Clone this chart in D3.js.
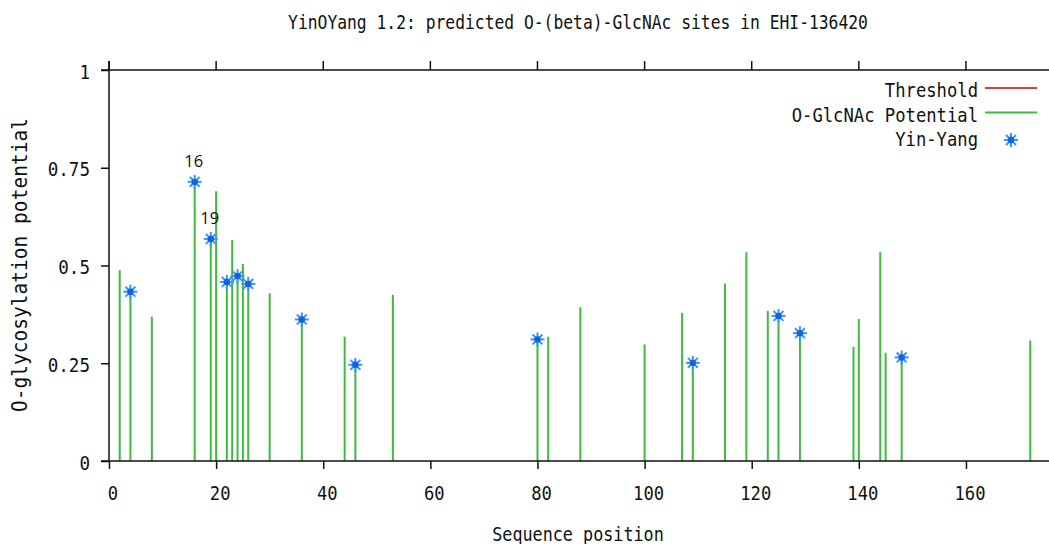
<!DOCTYPE html>
<html>
<head>
<meta charset="utf-8">
<script src="https://cdn.jsdelivr.net/npm/d3@7"></script>
<style>
  body { margin: 0; background: #fff; }
  svg { display: block; }
  .mono { font-family: "DejaVu Sans Mono", "Liberation Mono", monospace; fill: #111; }
  .axis text { font-family: "DejaVu Sans Mono", "Liberation Mono", monospace; font-size: 19.5px; fill: #111; }
  .axis line { stroke: #111; stroke-width: 1.5; }
</style>
</head>
<body>
<div id="chart"></div>
<script>
// sequence positions with O-GlcNAc potential
var positions = [2, 4, 8, 16, 19, 20, 22, 23, 24, 25, 26, 30, 36, 44, 46, 53, 80, 82, 88, 100,
                 107, 109, 115, 119, 123, 125, 129, 139, 140, 144, 145, 148, 172];
var potential = [0.488, 0.433, 0.369, 0.714, 0.568, 0.690, 0.458, 0.565, 0.473, 0.504, 0.453, 0.429,
                 0.362, 0.318, 0.246, 0.425, 0.311, 0.318, 0.393, 0.298, 0.379, 0.251, 0.454, 0.534,
                 0.384, 0.371, 0.327, 0.292, 0.363, 0.534, 0.277, 0.265, 0.308];
// Yin-Yang sites
var yinYangPos = [4, 16, 19, 22, 24, 26, 36, 46, 80, 109, 125, 129, 148];
var yinYangVal = [0.433, 0.714, 0.568, 0.458, 0.473, 0.453, 0.362, 0.246, 0.311, 0.251, 0.371, 0.327, 0.265];
// annotated sites
var labelPos = [16, 19];
var labelVal = [0.714, 0.568];

var xTicks = [0, 20, 40, 60, 80, 100, 120, 140, 160];
var yTicks = [0, 0.25, 0.5, 0.75, 1];
var yTickLabels = ['0', '0.25', '0.5', '0.75', '1'];

var legendNames = ['Threshold', 'O-GlcNAc Potential', 'Yin-Yang'];

var W = 1049, H = 544;
var colors = {threshold: '#e8383c', bar: '#3dbb3d', star: '#3a96f5', starDot: '#1462e0'};

var svg = d3.select('#chart').append('svg')
    .attr('width', W)
    .attr('height', H);

var x = d3.scaleLinear().domain([0, 180]).range([109, 109 + 5.356 * 180]);
var y = d3.scaleLinear().domain([0, 1]).range([461, 70]);

// narrow, tall gnuplot-like text
function monoText(px, py, size, sx, anchor, str, rotate) {
    return svg.append('text')
        .attr('class', 'mono')
        .attr('transform', 'translate(' + px + ',' + py + ')' + (rotate ? ' rotate(-90)' : '') + ' scale(' + sx + ',1)')
        .attr('text-anchor', anchor)
        .style('font-size', size + 'px')
        .text(str);
}

// title
monoText(578, 29, 19, 0.86, 'middle', 'YinOYang 1.2: predicted O-(beta)-GlcNAc sites in EHI-136420');

// frame: top border with outward ticks
svg.append('line')
    .attr('x1', 101).attr('x2', W).attr('y1', y(1)).attr('y2', y(1))
    .attr('stroke', '#111').attr('stroke-width', 1.5);
svg.append('g').selectAll('line')
    .data(xTicks)
    .enter().append('line')
    .attr('x1', function(d) { return x(d); })
    .attr('x2', function(d) { return x(d); })
    .attr('y1', y(1)).attr('y2', y(1) - 9)
    .attr('stroke', '#111').attr('stroke-width', 1.5);

// bars
svg.append('g').selectAll('line')
    .data(positions)
    .enter().append('line')
    .attr('x1', function(d) { return x(d); })
    .attr('x2', function(d) { return x(d); })
    .attr('y1', y(0))
    .attr('y2', function(d, i) { return y(potential[i]); })
    .attr('stroke', colors.bar)
    .attr('stroke-width', 2);

// axes
var xAxis = d3.axisBottom(x)
    .tickValues(xTicks)
    .tickSize(8)
    .tickPadding(17)
    .tickFormat(d3.format('d'));
var gx = svg.append('g')
    .attr('class', 'axis')
    .attr('transform', 'translate(0,' + y(0) + ')')
    .call(xAxis);
gx.select('.domain').remove();
gx.selectAll('text').attr('transform', 'translate(3.5,0) scale(0.88,1)');
svg.append('line')
    .attr('x1', 101).attr('x2', W).attr('y1', y(0)).attr('y2', y(0))
    .attr('stroke', '#111').attr('stroke-width', 1.5);

var yAxis = d3.axisLeft(y)
    .tickValues(yTicks)
    .tickSize(8)
    .tickPadding(10)
    .tickFormat(function(d, i) { return yTickLabels[i]; });
var gy = svg.append('g')
    .attr('class', 'axis')
    .attr('transform', 'translate(' + x(0) + ',0)')
    .call(yAxis);
gy.select('.domain').remove();
gy.selectAll('text')
    .attr('x', 0)
    .attr('dy', '0.42em')
    .attr('transform', 'translate(-19,0) scale(0.9,1)');
svg.append('line')
    .attr('x1', x(0)).attr('x2', x(0)).attr('y1', y(1) - 9).attr('y2', y(0))
    .attr('stroke', '#111').attr('stroke-width', 1.5);

// axis titles
monoText(578, 541, 19.5, 0.86, 'middle', 'Sequence position');
monoText(27, 265, 21, 0.93, 'middle', 'O-glycosylation potential', true);

// yin-yang star marker
function star(g, cx, cy) {
    var r = 7;
    [0, 45, 90, 135].forEach(function(a) {
        var rad = a * Math.PI / 180;
        g.append('line')
            .attr('x1', cx - r * Math.cos(rad)).attr('y1', cy - r * Math.sin(rad))
            .attr('x2', cx + r * Math.cos(rad)).attr('y2', cy + r * Math.sin(rad))
            .attr('stroke', colors.star).attr('stroke-width', 2);
    });
    g.append('circle')
        .attr('cx', cx).attr('cy', cy).attr('r', 3.2)
        .attr('fill', colors.starDot);
}

var stars = svg.append('g');
yinYangPos.forEach(function(p, i) {
    star(stars, x(p), y(yinYangVal[i]));
});

// site annotations
svg.append('g').selectAll('text')
    .data(labelPos)
    .enter().append('text')
    .attr('x', function(d) { return x(d) - 1; })
    .attr('y', function(d, i) { return y(labelVal[i]) - 15; })
    .attr('text-anchor', 'middle')
    .style('font-family', '"Open Sans", "Liberation Sans", sans-serif')
    .style('font-size', '16.5px')
    .style('fill', '#111')
    .text(function(d) { return d; });

// legend
var legend = svg.append('g');
legendNames.forEach(function(name, i) {
    var ly = 91 + i * 24.5;
    monoText(978, ly + 6, 20, 0.86, 'end', name);
    if (i === 0 || i === 1) {
        legend.append('line')
            .attr('x1', 985).attr('x2', 1037)
            .attr('y1', ly - 3).attr('y2', ly - 3)
            .attr('stroke', i === 0 ? colors.threshold : colors.bar)
            .attr('stroke-width', 2);
    } else {
        star(legend, 1011, ly);
    }
});
</script>
</body>
</html>
